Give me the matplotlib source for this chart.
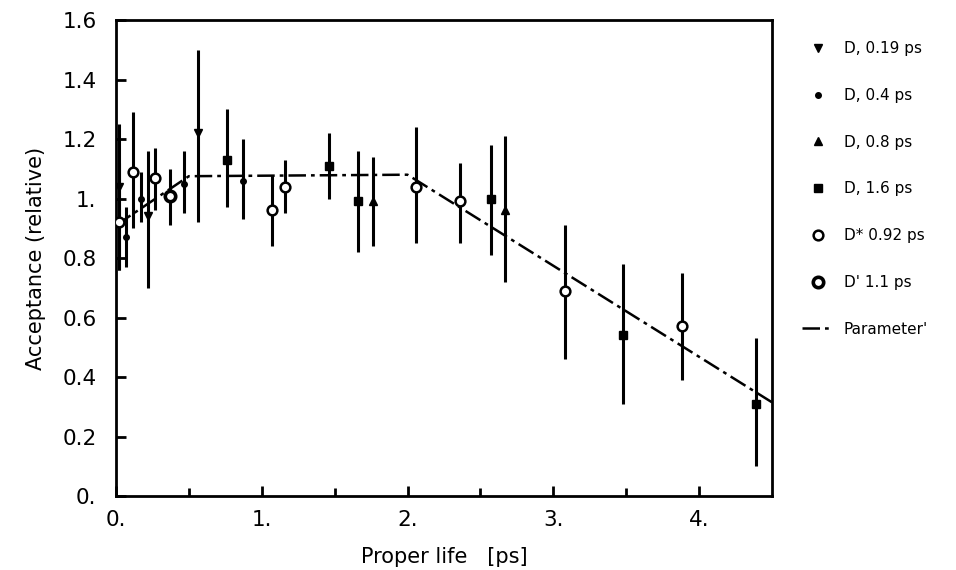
import matplotlib
matplotlib.use("Agg")
from matplotlib import pyplot as plt

# D, 0.19 ps  (down triangles)
d019_x = [0.02, 0.22, 0.56]
d019_y = [1.04, 0.94, 1.22]
d019_lo = [0.76, 0.70, 0.92]
d019_hi = [1.25, 1.16, 1.50]

# D, 0.4 ps  (small dots)
d04_x = [0.07, 0.17, 0.47, 0.87]
d04_y = [0.87, 1.00, 1.05, 1.06]
d04_lo = [0.77, 0.92, 0.95, 0.93]
d04_hi = [0.97, 1.09, 1.16, 1.20]

# D, 0.8 ps  (up triangles)
d08_x = [1.76, 2.67]
d08_y = [0.99, 0.96]
d08_lo = [0.84, 0.72]
d08_hi = [1.14, 1.21]

# D, 1.6 ps  (squares)
d16_x = [0.76, 1.46, 1.66, 2.57, 3.48, 4.39]
d16_y = [1.13, 1.11, 0.99, 1.00, 0.54, 0.31]
d16_lo = [0.97, 1.00, 0.82, 0.81, 0.31, 0.10]
d16_hi = [1.30, 1.22, 1.16, 1.18, 0.78, 0.53]

# D* 0.92 ps  (open circles)
ds092_x = [0.02, 0.12, 0.27, 1.07, 1.16, 2.06, 2.36, 3.08, 3.88]
ds092_y = [0.92, 1.09, 1.07, 0.96, 1.04, 1.04, 0.99, 0.69, 0.57]
ds092_lo = [0.76, 0.90, 0.96, 0.84, 0.95, 0.85, 0.85, 0.46, 0.39]
ds092_hi = [1.12, 1.29, 1.17, 1.08, 1.13, 1.24, 1.12, 0.91, 0.75]

# D' 1.1 ps  (bold open circles)
ds11_x = [0.37]
ds11_y = [1.01]
ds11_lo = [0.91]
ds11_hi = [1.10]

# parametrised acceptance
fit_x = [0.0, 0.5, 2.0, 4.5]
fit_y = [0.91, 1.075, 1.08, 0.315]

xticks = [0, 1, 2, 3, 4]
xticklabels = ["0.", "1.", "2.", "3.", "4."]
yticks = [0, 0.2, 0.4, 0.6, 0.8, 1.0, 1.2, 1.4, 1.6]
yticklabels = ["0.", "0.2", "0.4", "0.6", "0.8", "1.", "1.2", "1.4", "1.6"]


def errs(y, lo, hi):
    return [[a - b for a, b in zip(y, lo)], [c - a for a, c in zip(y, hi)]]


def main():
    plt.rcParams["font.family"] = "DejaVu Sans"
    fig = plt.figure(figsize=(9.56, 5.70), dpi=100)
    ax = fig.add_axes([0.1213, 0.1298, 0.6862, 0.8351])

    eb = dict(fmt="none", ecolor="black", elinewidth=2.2, capsize=0, zorder=2)
    series = [
        (d019_x, d019_y, d019_lo, d019_hi, dict(marker="v", ms=6, mfc="black"), "D, 0.19 ps"),
        (d04_x, d04_y, d04_lo, d04_hi, dict(marker="o", ms=4, mfc="black"), "D, 0.4 ps"),
        (d08_x, d08_y, d08_lo, d08_hi, dict(marker="^", ms=6, mfc="black"), "D, 0.8 ps"),
        (d16_x, d16_y, d16_lo, d16_hi, dict(marker="s", ms=5.5, mfc="black"), "D, 1.6 ps"),
        (ds092_x, ds092_y, ds092_lo, ds092_hi, dict(marker="o", ms=7, mfc="white", mew=1.8), "D* 0.92 ps"),
        (ds11_x, ds11_y, ds11_lo, ds11_hi, dict(marker="o", ms=7.5, mfc="white", mew=2.6), "D' 1.1 ps"),
    ]
    handles = []
    for x, y, lo, hi, mk, label in series:
        ax.errorbar(x, y, yerr=errs(y, lo, hi), **eb)
        h, = ax.plot(x, y, linestyle="none", color="black", mec="black", zorder=3, label=label, **mk)
        handles.append(h)

    fl, = ax.plot(fit_x, fit_y, color="black", lw=1.8, dashes=(7, 2, 1.5, 2), zorder=1, label="Parameter'")
    handles.append(fl)

    ax.set_xlim(0, 4.5)
    ax.set_ylim(0, 1.6)
    ax.set_xticks(xticks)
    ax.set_xticklabels(xticklabels)
    ax.set_xticks([0.5, 1.5, 2.5, 3.5], minor=True)
    ax.set_yticks(yticks)
    ax.set_yticklabels(yticklabels)
    ax.tick_params(axis="both", which="both", direction="in", width=2, labelsize=15.5)
    ax.tick_params(axis="both", which="major", length=7)
    ax.tick_params(axis="both", which="minor", length=6)
    ax.tick_params(axis="y", pad=14)
    ax.tick_params(axis="x", pad=10)
    for s in ax.spines.values():
        s.set_linewidth(2)

    ax.set_xlabel("Proper life   [ps]", fontsize=15, labelpad=12)
    ax.set_ylabel("Acceptance (relative)", fontsize=15, labelpad=12)

    fig.legend(handles=handles, loc="upper left", bbox_to_anchor=(0.825, 0.952),
               frameon=False, fontsize=11, handlelength=2.0, handletextpad=0.7,
               labelspacing=2.08, numpoints=1)

    fig.savefig("out.png", dpi=100)


if __name__ == "__main__":
    main()
